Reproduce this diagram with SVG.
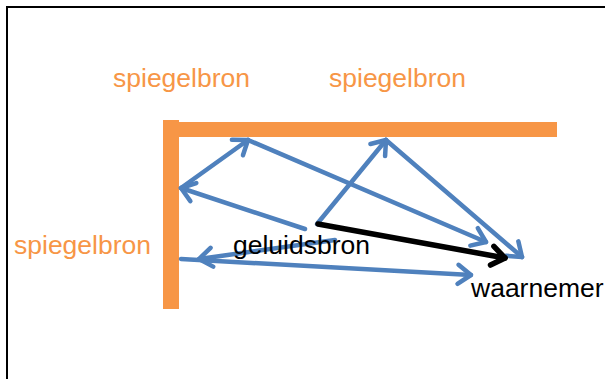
<svg xmlns="http://www.w3.org/2000/svg" width="605" height="379" viewBox="0 0 605 379">
<defs>
<style>
.lbl{font-family:"Liberation Sans",Arial,sans-serif;font-size:26.5px}
.or{fill:#F79646}
.bk{fill:#000}
.ray{fill:none;stroke:#4F81BD;stroke-width:4.5;stroke-linecap:round;marker-end:url(#ab)}
.dir{fill:none;stroke:#000;stroke-width:5.5;stroke-linecap:round;marker-end:url(#ak)}
</style>
<marker id="ab" viewBox="-20 -15 30 30" markerUnits="userSpaceOnUse" markerWidth="30" markerHeight="30" refX="0" refY="0" orient="auto">
<path d="M-13,-9.5 L0,0 L-13,9.5" fill="none" stroke="#4F81BD" stroke-width="4.5" stroke-linecap="round" stroke-linejoin="round"/>
</marker>
<marker id="ak" viewBox="-20 -15 30 30" markerUnits="userSpaceOnUse" markerWidth="30" markerHeight="30" refX="0" refY="0" orient="auto">
<path d="M-13,-9.5 L0,0 L-13,9.5" fill="none" stroke="#000" stroke-width="5.5" stroke-linecap="round" stroke-linejoin="round"/>
</marker>
</defs>
<rect width="605" height="379" fill="#fff"/>
<rect x="7" y="7" width="700" height="500" fill="none" stroke="#000" stroke-width="2"/>
<g id="mirrors">
<rect x="163" y="120" width="16" height="189" fill="#F79646"/>
<rect x="163" y="122" width="394" height="15" fill="#F79646"/>
</g>
<g id="connectors">
<line class="ray" x1="305" y1="229" x2="181" y2="188"/>
<line class="ray" x1="181" y1="188" x2="248" y2="140"/>
<line class="ray" x1="248" y1="140" x2="486" y2="242"/>
<line class="ray" x1="317" y1="224" x2="386" y2="140"/>
<line class="ray" x1="386" y1="140" x2="522" y2="257"/>
<line class="ray" x1="181" y1="259" x2="471" y2="275"/>
<line class="ray" x1="335" y1="240" x2="199" y2="259"/>
<line class="dir" x1="318" y1="224" x2="505" y2="258"/>
</g>
<g id="spiegelbron-1"><text class="lbl or" x="113" y="87">spiegelbron</text></g>
<g id="spiegelbron-2"><text class="lbl or" x="329" y="87">spiegelbron</text></g>
<g id="spiegelbron-3"><text class="lbl or" x="14" y="254">spiegelbron</text></g>
<g id="geluidsbron"><text class="lbl bk" x="233" y="254">geluidsbron</text></g>
<g id="waarnemer"><text class="lbl bk" x="471" y="297">waarnemer</text></g>
</svg>
